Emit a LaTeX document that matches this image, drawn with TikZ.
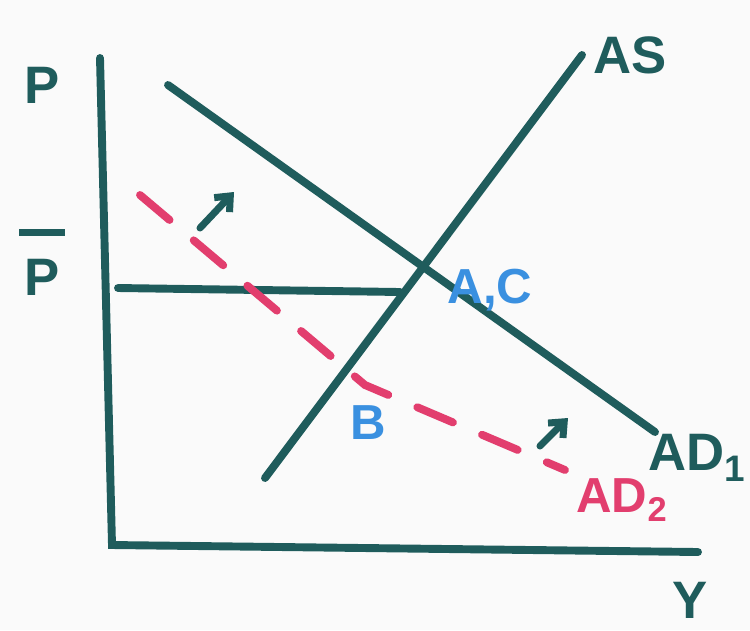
\documentclass[tikz,border=0pt]{standalone}
\usepackage{fontspec}
\setmainfont{Liberation Sans}
\definecolor{ink}{HTML}{1F5C5C}
\definecolor{pinkink}{HTML}{E23E6E}
\definecolor{blueink}{HTML}{3A90E0}
\definecolor{paper}{HTML}{FAFAFA}
\tikzset{
  pen/.style={draw=ink, line width=4.5pt, line cap=round},
  dashpen/.style={draw=pinkink, line width=4.5pt, line cap=round, dash pattern=on 22pt off 18pt},
  lbl/.style={font=\bfseries\fontsize{30}{30}\selectfont, text=ink, inner sep=0pt},
  plbl/.style={font=\bfseries\fontsize{28}{28}\selectfont, text=pinkink, inner sep=0pt},
  blbl/.style={font=\bfseries\fontsize{28}{28}\selectfont, text=blueink, inner sep=0pt},
  shift arrow/.style={draw=ink, line width=4pt, line cap=round, -{Straight Barb[length=7pt,width=12pt]}}
}
\usetikzlibrary{arrows.meta}
\begin{document}
\begin{tikzpicture}[x=0.02cm, y=-0.02cm]
\fill[paper] (0,0) rectangle (750,630);
\useasboundingbox (0,0) rectangle (750,630);
% coordinates
\coordinate (ytop) at (100,58);
\coordinate (origin) at (112,545);
\coordinate (xend) at (698,552);
\coordinate (pbarL) at (118,288);
\coordinate (pbarR) at (400,292);
\coordinate (asL) at (265,478);
\coordinate (asR) at (582,55);
\coordinate (ad1L) at (168,85);
\coordinate (ad1R) at (655,432);
\coordinate (ad2L) at (140,195);
\coordinate (ad2M) at (365,385);
\coordinate (ad2R) at (565,470);
\coordinate (a1s) at (200,228);
\coordinate (a1e) at (234,192);
\coordinate (a2s) at (540,446);
\coordinate (a2e) at (568,418);
% axes and lines
\draw[pen] (ytop) -- (origin) -- (xend);
\draw[pen] (pbarL) -- (pbarR);
\draw[pen] (asL) -- (asR);
\draw[pen] (ad1L) -- (ad1R);
\draw[dashpen] (ad2L) -- (ad2M) -- (ad2R);
\draw[shift arrow] (a1s) -- (a1e);
\draw[shift arrow] (a2s) -- (a2e);
% labels
\node[lbl] (P) at (42,85) {P};
\node[lbl, align=center] (Pbar) at (42,262) {{\color{ink}\rule{26pt}{4pt}}\\[4pt]P};
\node[lbl] (AS) at (630,55) {AS};
\node[lbl, anchor=east] (AD1) at (746,458) {AD\textsubscript{1}};
\node[plbl] (AD2) at (622,500) {AD\textsubscript{2}};
\node[lbl] (Y) at (690,600) {Y};
\node[blbl] (AC) at (490,290) {A,C};
\node[blbl] (B) at (368,423) {B};
\end{tikzpicture}
\end{document}
